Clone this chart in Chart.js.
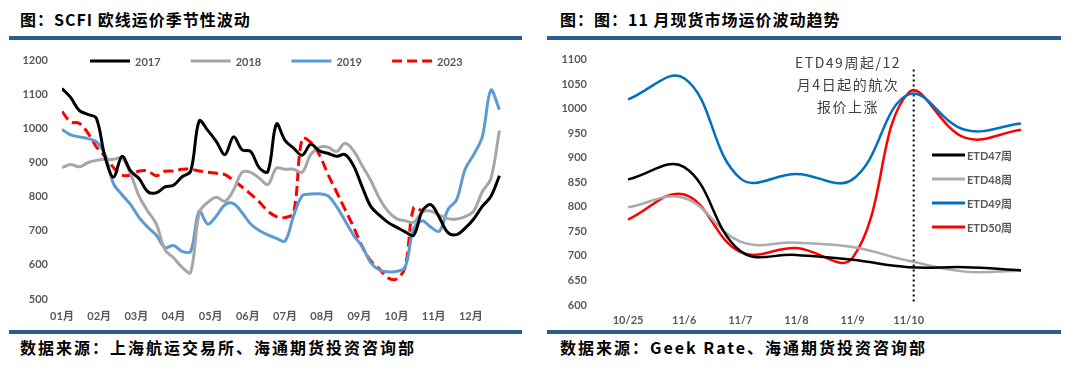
<!DOCTYPE html>
<html>
<head>
<meta charset="utf-8">
<script src="https://cdn.jsdelivr.net/npm/chart.js@4.4.0/dist/chart.umd.min.js"></script>
<style>
  html, body { margin: 0; padding: 0; background: #fff; }
  body { width: 1080px; height: 377px; position: relative; overflow: hidden; font-family: "Noto Sans CJK SC", sans-serif; }
  .title { position: absolute; top: 8px; font-size: 16px; font-weight: bold; letter-spacing: 1px; color: #000; line-height: 22px; white-space: nowrap; }
  .source { position: absolute; top: 336px; font-size: 16px; font-weight: bold; letter-spacing: 2px; color: #000; line-height: 22px; white-space: nowrap; }
  .bar { position: absolute; height: 4px; background: #2F5C8F; }
  canvas { position: absolute; top: 40px; }
</style>
</head>
<body>
<div class="title" style="left:20px">图：SCFI 欧线运价季节性波动</div>
<div class="title" style="left:560px">图：图：11 月现货市场运价波动趋势</div>
<div class="bar" style="left:9px; width:513px; top:36px"></div>
<div class="bar" style="left:547px; width:514px; top:36px"></div>
<canvas id="scfi-chart" width="513" height="290" style="left:9px"></canvas>
<canvas id="spot-chart" width="514" height="290" style="left:547px"></canvas>
<div class="bar" style="left:9px; width:513px; top:330px"></div>
<div class="bar" style="left:547px; width:514px; top:330px"></div>
<div class="source" style="left:20px">数据来源：上海航运交易所、海通期货投资咨询部</div>
<div class="source" style="left:560px">数据来源：Geek Rate、海通期货投资咨询部</div>

<script>
// ---- left chart: SCFI Europe weekly, by year ----
const monthLabels = ['01月', '02月', '03月', '04月', '05月', '06月', '07月', '08月', '09月', '10月', '11月', '12月'];

const scfi2017 = [1118, 1092, 1054, 1042, 1031, 919, 858, 919, 876, 853, 815, 812, 829, 834, 859, 875,
  1023, 995, 962, 924, 976, 938, 933, 885, 874, 1014, 966, 943, 922, 954, 935, 928, 919, 924, 891,
  829, 772, 746, 725, 711, 697, 687, 758, 777, 739, 695, 689, 708, 735, 772, 801, 862];
const scfi2018 = [886, 895, 888, 900, 907, 910, 910, 914, 867, 801, 758, 720, 645, 621, 593, 578,
  753, 784, 799, 787, 820, 872, 872, 855, 836, 884, 881, 881, 872, 924, 945, 946, 933, 957, 935,
  891, 848, 796, 758, 736, 730, 725, 755, 758, 746, 736, 735, 742, 758, 815, 853, 995];
const scfi2019 = [998, 982, 976, 971, 962, 924, 839, 806, 777, 739, 711, 687, 651, 657, 640, 640,
  758, 720, 744, 777, 780, 753, 720, 701, 688, 678, 670, 744, 803, 808, 809, 803, 772, 730, 687,
  654, 607, 585, 580, 581, 593, 706, 730, 711, 699, 763, 791, 881, 924, 976, 1113, 1056];
const scfi2023 = [1051, 1020, 1016, 988, 947, 919, 886, 864, 864, 876, 876, 862, 875, 876, 881, 881,
  876, 872, 869, 865, 848, 829, 808, 785, 758, 742, 739, 753, 971, 960, 924, 867, 815, 763, 711,
  654, 612, 588, 562, 559, 593, 768, 758];

const weeksPerYear = 52;

// ---- right chart: spot rates by ETD week ----
const spotDates = ['10/25', '11/6', '11/7', '11/8', '11/9', '11/10', '', ''];
const etd47 = [856, 881, 710, 702, 692, 677, 677, 671];
const etd48 = [799, 818, 729, 727, 718, 690, 668, 670];
const etd49 = [1019, 1062, 858, 867, 856, 1029, 957, 970];
const etd50 = [774, 825, 708, 716, 696, 1033, 941, 957];
const noteLines = ['ETD49周起/12', '月4日起的航次', '报价上涨'];
const noteIndex = 5;

Chart.defaults.font.family = 'Lato, "Noto Sans CJK SC", sans-serif';
Chart.defaults.color = '#595959';

// Legend drawn by hand so items sit exactly where the original has them
const lineLegend = {
  id: 'lineLegend',
  afterDatasetsDraw(chart, args, opts) {
    const ctx = chart.ctx;
    ctx.save();
    chart.data.datasets.forEach((ds, i) => {
      const x = opts.x + opts.dx * i;
      const y = opts.y + opts.dy * i;
      ctx.strokeStyle = ds.borderColor;
      ctx.lineWidth = opts.lineWidth;
      ctx.setLineDash(ds.borderDash || []);
      ctx.beginPath();
      ctx.moveTo(x, y);
      ctx.lineTo(x + opts.len, y);
      ctx.stroke();
      ctx.setLineDash([]);
      ctx.fillStyle = '#595959';
      ctx.font = opts.font;
      ctx.textAlign = 'left';
      ctx.textBaseline = 'middle';
      ctx.fillText(ds.label, x + opts.len + opts.gap, y + 1);
    });
    ctx.restore();
  }
};

// Dotted marker + callout text on the spot chart
const noteMarker = {
  id: 'noteMarker',
  beforeDatasetsDraw(chart) {
    const { ctx, chartArea, scales: { x, y } } = chart;
    const lx = x.getPixelForValue(noteIndex) + 5;
    ctx.save();
    ctx.strokeStyle = '#000';
    ctx.lineWidth = 2;
    ctx.setLineDash([2, 3]);
    ctx.beginPath();
    ctx.moveTo(lx, y.getPixelForValue(1080));
    ctx.lineTo(lx, chartArea.bottom - 2);
    ctx.stroke();
    ctx.restore();
  },
  afterDatasetsDraw(chart) {
    const ctx = chart.ctx;
    ctx.save();
    ctx.fillStyle = '#404040';
    ctx.font = '14px "Noto Sans CJK SC", sans-serif';
    if ('letterSpacing' in ctx) ctx.letterSpacing = '1.5px';
    ctx.textAlign = 'center';
    ctx.textBaseline = 'middle';
    noteLines.forEach((t, i) => ctx.fillText(t, 301, 23 + i * 21.7));
    ctx.restore();
  }
};

function toPoints(values) {
  return values.map((v, i) => ({ x: i, y: v }));
}

function lineSet(label, values, color, extra) {
  return Object.assign({
    label,
    data: values,
    borderColor: color,
    backgroundColor: color,
    borderWidth: 3,
    pointRadius: 0,
    tension: 0.35,
    fill: false
  }, extra || {});
}

const plainNumber = value => String(value);

new Chart(document.getElementById('scfi-chart'), {
  type: 'line',
  data: {
    datasets: [
      lineSet('2017', toPoints(scfi2017), '#000000'),
      lineSet('2018', toPoints(scfi2018), '#A6A6A6'),
      lineSet('2019', toPoints(scfi2019), '#5B9BD5'),
      lineSet('2023', toPoints(scfi2023), '#FF0000', { borderDash: [10, 5] })
    ]
  },
  options: {
    responsive: false,
    animation: false,
    devicePixelRatio: 1,
    layout: { padding: { top: 13, right: 14, left: 0, bottom: 0 } },
    plugins: {
      legend: { display: false },
      tooltip: { enabled: false },
      lineLegend: { x: 81, y: 21, dx: 100.7, dy: 0, len: 40, gap: 5, lineWidth: 3, font: 'bold 11px Lato, sans-serif' }
    },
    scales: {
      x: {
        type: 'linear',
        min: 0,
        max: weeksPerYear,
        grid: { display: false, drawTicks: false },
        border: { display: false },
        afterBuildTicks: scale => {
          scale.ticks = monthLabels.map((_, m) => ({ value: m * weeksPerYear / 12 }));
        },
        afterFit: scale => { scale.height = 31; },
        ticks: {
          padding: 11,
          autoSkip: false,
          maxRotation: 0,
          font: { size: 11, weight: 'bold' },
          callback: (value, index) => monthLabels[index]
        }
      },
      y: {
        min: 500,
        max: 1200,
        grid: { display: false, drawTicks: false },
        border: { display: false },
        afterFit: scale => { scale.width = 53; },
        ticks: { stepSize: 100, padding: 14, font: { size: 11, weight: 'bold' }, callback: plainNumber }
      }
    }
  },
  plugins: [lineLegend]
});

new Chart(document.getElementById('spot-chart'), {
  type: 'line',
  data: {
    labels: spotDates,
    datasets: [
      lineSet('ETD47周', etd47, '#000000', { borderWidth: 2.5, tension: 0.4 }),
      lineSet('ETD48周', etd48, '#ABABAB', { borderWidth: 2.5, tension: 0.4 }),
      lineSet('ETD49周', etd49, '#0070C0', { borderWidth: 2.5, tension: 0.4 }),
      lineSet('ETD50周', etd50, '#FF0000', { borderWidth: 2.5, tension: 0.4 })
    ]
  },
  options: {
    responsive: false,
    animation: false,
    devicePixelRatio: 1,
    layout: { padding: { top: 13, right: 12, left: 0, bottom: 0 } },
    plugins: {
      legend: { display: false },
      tooltip: { enabled: false },
      lineLegend: { x: 385, y: 115, dx: 0, dy: 24, len: 33, gap: 2, lineWidth: 3, font: 'bold 11px Lato, "Noto Sans CJK SC", sans-serif' }
    },
    scales: {
      x: {
        offset: true,
        grid: { display: false, drawTicks: false },
        border: { display: false },
        afterFit: scale => { scale.height = 25; },
        ticks: { padding: 9, autoSkip: false, maxRotation: 0, font: { size: 11, weight: 'bold' } }
      },
      y: {
        min: 600,
        max: 1100,
        grid: { display: false, drawTicks: false },
        border: { display: false },
        afterFit: scale => { scale.width = 53; },
        ticks: { stepSize: 50, padding: 13, font: { size: 11, weight: 'bold' }, callback: plainNumber }
      }
    }
  },
  plugins: [noteMarker, lineLegend]
});
</script>
</body>
</html>
